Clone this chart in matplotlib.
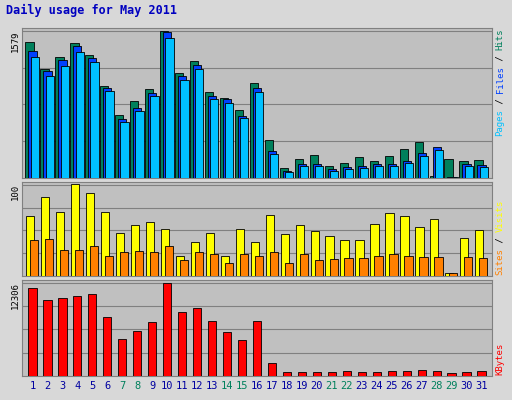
import matplotlib
matplotlib.use("Agg")
import matplotlib.pyplot as plt
import numpy as np

days = list(range(1, 32))
hits = [1461,1171,1300,1450,1321,988,677,827,956,1579,1128,1257,924,859,730,1020,408,107,204,247,129,161,226,183,236,311,387,21,204,183,190]
files = [1364,1149,1268,1418,1289,967,634,752,913,1568,1096,1214,881,849,666,967,290,75,150,150,96,118,129,150,150,183,268,333,11,150,140]
pages = [1300,1100,1200,1350,1250,930,600,720,880,1500,1050,1170,850,800,640,920,260,60,130,130,80,100,110,130,130,160,240,300,8,130,120]
visits = [66,87,70,101,91,70,47,56,59,52,22,37,47,22,52,37,67,46,56,49,44,39,39,57,69,66,54,62,3,42,50]
sites = [39,41,28,28,33,22,26,27,26,33,17,26,24,14,24,22,26,14,24,18,19,20,20,22,24,22,21,21,3,21,20]
kbytes = [11630,10011,10281,10551,10822,7850,4875,5957,7175,12306,8391,8932,7310,5822,4740,7310,1758,541,541,541,541,676,541,541,676,676,811,676,406,541,676]
weekend = {7,8,14,15,21,22,28,29}

fig = plt.figure(figsize=(5.12, 4.0), dpi=100, facecolor="#D8D8D8")
W, H = 512, 400
def ax_at(x0, y0, x1, y1):
    a = fig.add_axes([x0/W, 1-y1/H, (x1-x0)/W, (y1-y0)/H])
    a.set_facecolor("#C0C0C0")
    for s in a.spines.values():
        s.set_color("#808080")
    return a

x = np.array(days)
boxes = [(22, 28, 492, 178), (22, 182, 492, 276), (22, 280, 492, 376)]
axes = [ax_at(*b) for b in boxes]
panels = [
    (axes[0], [(hits, "#00805C", -0.2), (files, "#0040FF", 0.0), (pages, "#00C0FF", 0.15)], 1579, "1579",
     [("Pages", "#00C0FF"), (" / ", "#000000"), ("Files", "#0040FF"), (" / ", "#000000"), ("Hits", "#00805C")], 136),
    (axes[1], [(visits, "#FFFF00", -0.15), (sites, "#FF8000", 0.12)], 100, "100",
     [("Sites", "#FF8000"), (" / ", "#000000"), ("Visits", "#FFFF00")], 275),
    (axes[2], [(kbytes, "#FF0000", 0.0)], 12306, "12306", [("KBytes", "#FF0000")], 375),
]
CH = 5.4
for (a, series, top, lab, rlab, ybot), b in zip(panels, boxes):
    for vals, c, off in series:
        a.bar(x + off, vals, width=0.55, color=c, edgecolor="#000000", linewidth=0.6, zorder=3)
    a.set_xlim(0.3, 31.7)
    a.set_ylim(0, top * 1.03)
    for q in (0.25, 0.5, 0.75, 1.0):
        a.axhline(top * q, color="#808080", lw=0.8, zorder=1)
    a.set_yticks([])
    a.set_xticks([])
    fig.text(15/W, 1-(b[1]+2)/H, lab, rotation=90, ha="center", va="top",
             fontsize=6.5, family="DejaVu Sans Mono")
    cur = ybot
    for t, c in rlab:
        fig.text(500/W, 1-cur/H, t, rotation=90, ha="center", va="bottom",
                 fontsize=6.5, family="DejaVu Sans Mono", color=c)
        cur -= len(t) * CH
axes[0].set_ylim(0, 1579 * 1.02)

ax = axes[2]
for d in days:
    ax.text(d, -0.05, str(d), transform=ax.get_xaxis_transform(), ha="center", va="top",
            fontsize=7.5, family="DejaVu Sans Mono",
            color="#00805C" if d in weekend else "#0000A0")
fig.text(6/W, 1-10/H, "Daily usage for May 2011", ha="left", va="center",
         fontsize=8.5, fontweight="bold", family="DejaVu Sans Mono", color="#0000C0")
fig.savefig("out.png", dpi=100, facecolor=fig.get_facecolor())
